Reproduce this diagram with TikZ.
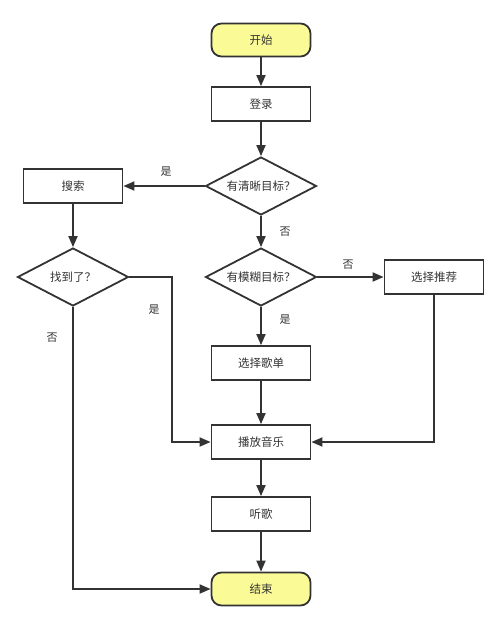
\documentclass[tikz,border=0pt]{standalone}
\usepackage{fontspec}
\setmainfont{Noto Sans CJK SC}
\usetikzlibrary{shapes.geometric,arrows.meta}
\definecolor{ln}{HTML}{333333}
\definecolor{ylw}{HTML}{FAFA96}
\tikzset{
  x=1pt,y=-1pt,
  base/.style={draw=ln,line width=1.8pt,font=\fontsize{11.5}{13}\selectfont,text=ln,inner sep=0pt},
  term/.style={base,rounded corners=10pt,fill=ylw,minimum width=99pt,minimum height=33pt},
  box/.style={base,rectangle,minimum width=99pt,minimum height=34pt},
  dec/.style={base,diamond,aspect=1.9,minimum width=111pt,minimum height=58pt},
  conn/.style={draw=ln,line width=1.8pt,-{Triangle[length=11pt,width=9pt]}},
  lbl/.style={font=\fontsize{11}{13}\selectfont,text=ln}
}
\begin{document}
\begin{tikzpicture}
\useasboundingbox (0,0) rectangle (499,641);
\node[term] (start) at (261,40) {开始};
\node[box] (login) at (261,104) {登录};
\node[dec] (clear) at (261,186) {有清晰目标？};
\node[box] (search) at (73,186) {搜索};
\node[dec] (found) at (73,277) {找到了？};
\node[dec] (fuzzy) at (261,277) {有模糊目标？};
\node[box] (rec) at (434,277) {选择推荐};
\node[box] (list) at (261,363) {选择歌单};
\node[box] (play) at (261,442) {播放音乐};
\node[box] (listen) at (261,514) {听歌};
\node[term] (end) at (261,589) {结束};
\coordinate (c1) at (172,277);
\coordinate (c2) at (172,442);
\coordinate (c3) at (73,589);
\coordinate (c4) at (434,442);

\draw[conn] (start) -- (login);
\draw[conn] (login) -- (clear);
\draw[conn] (clear) -- (search);
\draw[conn] (clear) -- (fuzzy);
\draw[conn] (search) -- (found);
\draw[conn] (fuzzy) -- (rec);
\draw[conn] (fuzzy) -- (list);
\draw[conn] (list) -- (play);
\draw[conn] (play) -- (listen);
\draw[conn] (listen) -- (end);
\draw[conn] (found.east) -- (c1) -- (c2) -- (play.west);
\draw[conn] (found.south) -- (c3) -- (end.west);
\draw[conn] (rec.south) -- (c4) -- (play.east);

\node[lbl] (l1) at (166,172) {是};
\node[lbl] (l2) at (285,232) {否};
\node[lbl] (l3) at (348,265) {否};
\node[lbl] (l4) at (285,320) {是};
\node[lbl] (l5) at (154,310) {是};
\node[lbl] (l6) at (52,338) {否};
\end{tikzpicture}
\end{document}
